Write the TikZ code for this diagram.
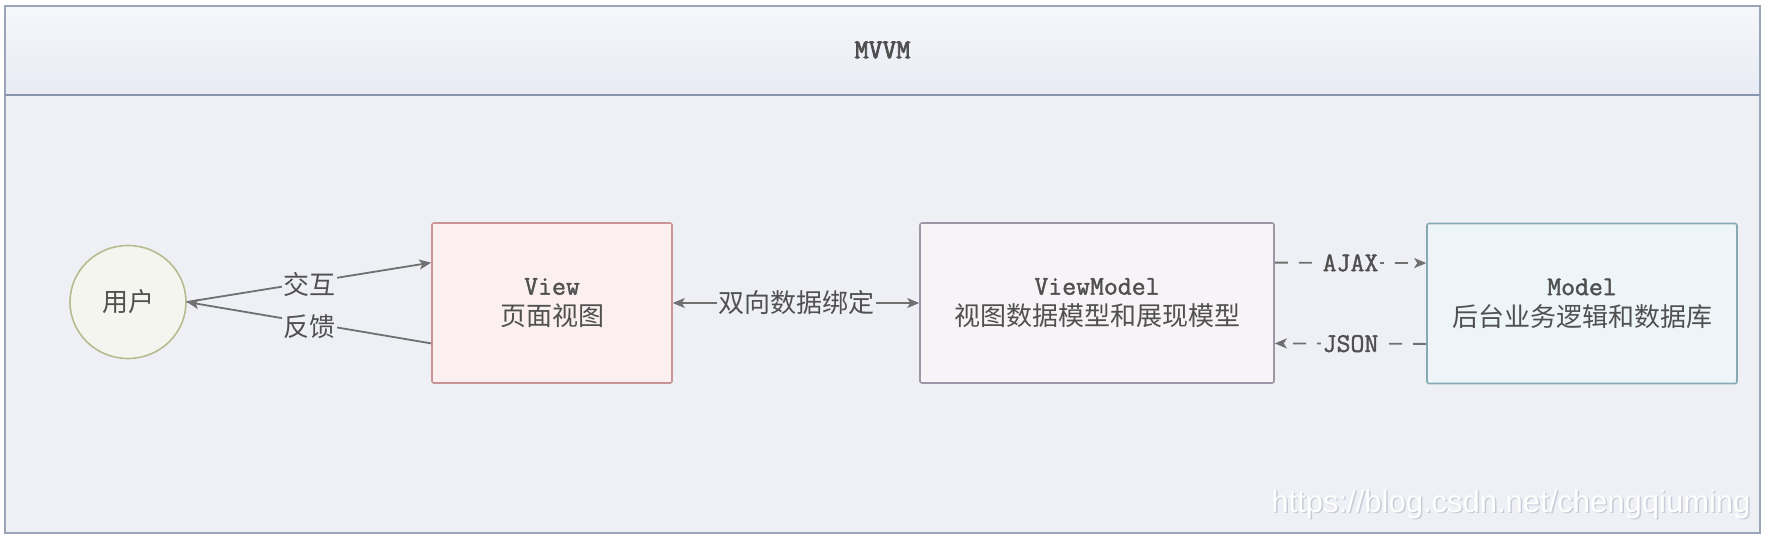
\documentclass[tikz,border=0pt]{standalone}
\usepackage{fontspec}
\setmainfont{Liberation Sans}
\newfontfamily\cjk{Noto Sans CJK SC}
\newfontfamily\mono[FakeBold=1.5]{Latin Modern Mono}
\newfontfamily\monob[FakeBold=3]{Latin Modern Mono}
\usetikzlibrary{shapes.geometric,arrows.meta,calc}
\definecolor{bodybg}{HTML}{EEF0F6}
\definecolor{headtop}{HTML}{F6F7FB}
\definecolor{headbot}{HTML}{E8EBF4}
\definecolor{framecol}{HTML}{9AA6B8}
\definecolor{sepcol}{HTML}{8796AC}
\definecolor{txtgray}{HTML}{505050}
\definecolor{linegray}{HTML}{707070}
\definecolor{userfill}{HTML}{F4F5EF}
\definecolor{userdraw}{HTML}{B8BA8F}
\definecolor{viewfill}{HTML}{FBEFF0}
\definecolor{viewdraw}{HTML}{C99495}
\definecolor{vmfill}{HTML}{F7F3F6}
\definecolor{vmdraw}{HTML}{9C95A6}
\definecolor{mfill}{HTML}{EEF5F9}
\definecolor{mdraw}{HTML}{86AAB3}
\definecolor{wmshadow}{HTML}{C8CCD6}
\tikzset{
  txt/.style={text=txtgray, font=\cjk\fontsize{26}{31}\selectfont},
  monotxt/.style={text=txtgray, font=\mono\fontsize{27}{30}\selectfont},
  box/.style={draw, line width=1.6pt, rounded corners=2pt, minimum height=160pt,
    align=center, inner sep=0pt, txt},
  conn/.style={draw=linegray, line width=1.8pt},
  dconn/.style={conn, dash pattern=on 13pt off 11pt},
  lbl/.style={fill=bodybg, inner sep=1.5pt, txt},
  mlbl/.style={fill=bodybg, inner sep=1.5pt, monotxt},
  >={Stealth[length=12pt,width=10pt,inset=3pt]},
}
\newcommand{\mtx}[1]{{\mono\fontsize{27}{30}\selectfont #1}}
\begin{document}
\begin{tikzpicture}[x=1pt,y=-1pt]
\useasboundingbox (0,0) rectangle (1765,539);
% frame
\fill[white] (0,0) rectangle (1765,539);
\fill[bodybg] (5,95) rectangle (1760,533);
\shade[top color=headtop, bottom color=headbot] (5,6) rectangle (1760,95);
\draw[framecol, line width=1.5pt] (5,6) rectangle (1760,533);
\draw[sepcol, line width=2.6pt] (5,95) -- (1760,95);
\node[text=txtgray, font=\monob\fontsize{27}{30}\selectfont] (title) at (882.5,50) {MVVM};
% nodes
\node[ellipse, draw=userdraw, fill=userfill, line width=1.6pt, minimum width=116pt,
  minimum height=113pt, inner sep=0pt, txt] (user) at (128,302) {用户};
\node[box, draw=viewdraw, fill=viewfill, minimum width=240pt] (view) at (552,303)
  {\mtx{View}\\页面视图};
\node[box, draw=vmdraw, fill=vmfill, minimum width=354pt] (vm) at (1097,303)
  {\mtx{ViewModel}\\视图数据模型和展现模型};
\node[box, draw=mdraw, fill=mfill, minimum width=310pt] (model) at (1582,303.5)
  {\mtx{Model}\\后台业务逻辑和数据库};
% connectors
\draw[conn,->] (user.east) -- node[lbl, pos=0.5, yshift=-2pt] (l1) {交互}
  ($(view.north west)!0.25!(view.south west)$);
\draw[conn,->] ($(view.north west)!0.75!(view.south west)$) -- node[lbl, pos=0.5, yshift=-4pt] (l2) {反馈}
  (user.east);
\draw[conn,<->] (view.east) -- node[lbl] (l3) {双向数据绑定} (vm.west);
\draw[dconn,->] ($(vm.north east)!0.25!(vm.south east)$) -- node[mlbl] (l4) {AJAX}
  ($(model.north west)!0.25!(model.south west)$);
\draw[dconn,->] ($(model.north west)!0.75!(model.south west)$) -- node[mlbl] (l5) {JSON}
  ($(vm.north east)!0.75!(vm.south east)$);
% watermark
\node[anchor=east, text=wmshadow, font=\fontsize{31}{36}\selectfont] (wms) at (1755.5,505.5) {https://blog.csdn.net/chengqiuming};
\node[anchor=east, text=white, font=\fontsize{31}{36}\selectfont] (wm) at (1754,504) {https://blog.csdn.net/chengqiuming};
\end{tikzpicture}
\end{document}
